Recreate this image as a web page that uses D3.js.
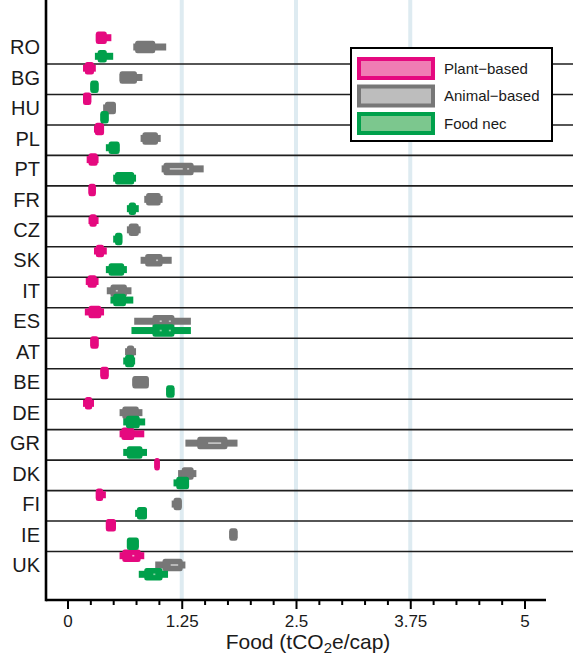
<!DOCTYPE html>
<html>
<head>
<meta charset="utf-8">
<script src="https://cdn.jsdelivr.net/npm/d3@7"></script>
<style>
  body { margin: 0; background: #fff; }
  svg { display: block; }
  text { font-family: "Liberation Sans", Arial, Helvetica, sans-serif; }
</style>
</head>
<body>
<svg id="chart" width="573" height="657"></svg>
<script>
// Countries, top to bottom
const countries = ["RO","BG","HU","PL","PT","FR","CZ","SK","IT","ES","AT","BE","DE","GR","DK","FI","IE","UK"];

// Food footprint distributions, tCO2e/cap: [min, q1, q3, max]
const plantBased = [
  [0.31,0.31,0.43,0.48],[0.17,0.19,0.29,0.31],[0.17,0.17,0.26,0.26],[0.29,0.30,0.40,0.40],
  [0.21,0.23,0.33,0.34],[0.23,0.23,0.31,0.31],[0.23,0.24,0.32,0.34],[0.29,0.31,0.40,0.43],
  [0.20,0.22,0.32,0.34],[0.19,0.23,0.37,0.40],[0.25,0.25,0.34,0.34],[0.36,0.36,0.45,0.45],
  [0.17,0.19,0.27,0.29],[0.57,0.59,0.73,0.84],[0.95,0.95,1.01,1.01],[0.31,0.31,0.39,0.42],
  [0.42,0.42,0.53,0.53],[0.57,0.60,0.80,0.84]
];
const animalBased = [
  [0.72,0.74,0.96,1.08],[0.57,0.57,0.76,0.82],[0.39,0.41,0.53,0.53],[0.80,0.82,0.99,1.02],
  [1.03,1.05,1.38,1.49],[0.84,0.86,1.02,1.04],[0.65,0.67,0.78,0.80],[0.80,0.85,1.04,1.14],
  [0.43,0.47,0.65,0.70],[0.73,0.93,1.17,1.35],[0.63,0.65,0.73,0.75],[0.71,0.71,0.89,0.89],
  [0.57,0.60,0.78,0.82],[1.29,1.42,1.75,1.86],[1.21,1.25,1.38,1.41],[1.14,1.16,1.25,1.25],
  [1.77,1.77,1.86,1.86],[0.96,1.04,1.26,1.29]
];
const foodNec = [
  [0.30,0.33,0.43,0.50],[0.25,0.25,0.34,0.34],[0.36,0.36,0.45,0.45],[0.42,0.45,0.57,0.57],
  [0.50,0.52,0.73,0.75],[0.65,0.67,0.75,0.78],[0.50,0.52,0.60,0.60],[0.42,0.45,0.62,0.65],
  [0.47,0.50,0.64,0.72],[0.70,0.93,1.17,1.35],[0.61,0.63,0.73,0.74],[1.08,1.08,1.17,1.17],
  [0.61,0.64,0.79,0.85],[0.61,0.65,0.82,0.87],[1.16,1.19,1.33,1.33],[0.74,0.76,0.87,0.87],
  [0.65,0.65,0.78,0.78],[0.78,0.84,1.04,1.10]
];

// Central marks inside the wider boxes: [country, series index, from, to]
const centreMarks = [
  ["PT",1,1.13,1.25],["PT",1,1.32,1.32],["SK",1,0.98,0.98],["IT",1,0.54,0.54],
  ["ES",1,1.02,1.02],["ES",1,1.12,1.12],["ES",2,1.02,1.02],["ES",2,1.12,1.12],
  ["GR",1,1.55,1.67],["UK",0,0.72,0.72],["UK",1,1.14,1.20],["UK",2,0.95,0.95]
];

const seriesNames = ["Plant\u2212based","Animal\u2212based","Food nec"];
const seriesData = [plantBased, animalBased, foodNec];
const seriesColor = ["#e5097f","#777777","#00a04b"];
const seriesLight = ["#f07db4","#bdbdbd","#7cc78e"];
const markColor = ["#f6a9cc","#c9c9c9","#86d4a4"];

const majorTicks = [0, 1.25, 2.5, 3.75, 5];
const minorTicks = d3.range(0, 5.0001, 0.25).filter(v => !majorTicks.some(m => Math.abs(m - v) < 1e-6));

const svg = d3.select("#chart");
const plotLeft = 46, plotRight = 546, plotTop = 0, plotBottom = 600;

const x = d3.scaleLinear().domain([-0.235, 5.235]).range([plotLeft, plotRight]);
const y = d3.scalePoint().domain(countries).range([47, 565]);
const sub = d3.scalePoint().domain([0,1,2]).range([-9.3, 9.3]);

// vertical guide bands
svg.append("g").selectAll("line").data(majorTicks.slice(1, 4)).join("line")
  .attr("x1", d => x(d)).attr("x2", d => x(d))
  .attr("y1", plotTop).attr("y2", plotBottom)
  .attr("stroke", "#deebf1").attr("stroke-width", 4);

// row separators
svg.append("g").selectAll("line").data(countries.slice(0, -1)).join("line")
  .attr("x1", plotLeft).attr("x2", 573)
  .attr("y1", d => y(d) + 17).attr("y2", d => y(d) + 17)
  .attr("stroke", "#1e1e1e").attr("stroke-width", 1.6);

// box plots
const boxH = 12.5, whiskH = 7;
const marks = svg.append("g");
seriesData.forEach((rows, s) => {
  const g = marks.append("g");
  rows.forEach((r, i) => {
    const cy = y(countries[i]) + sub(s);
    const [mn, q1, q3, mx] = r;
    g.append("rect")
      .attr("x", x(mn)).attr("width", Math.max(x(mx) - x(mn), 0))
      .attr("y", cy - whiskH / 2).attr("height", whiskH)
      .attr("fill", seriesColor[s]);
    g.append("rect")
      .attr("x", x(q1)).attr("width", x(q3) - x(q1))
      .attr("y", cy - boxH / 2).attr("height", boxH)
      .attr("rx", 2.5)
      .attr("fill", seriesColor[s]);
  });
});

marks.append("g").selectAll("rect").data(centreMarks).join("rect")
  .attr("x", d => x(d[2]) - 1)
  .attr("width", d => x(d[3]) - x(d[2]) + 2)
  .attr("y", d => y(d[0]) + sub(d[1]) - 0.8)
  .attr("height", 1.6)
  .attr("fill", d => markColor[d[1]]);

// axes
const xAxisMajor = d3.axisBottom(x).tickValues(majorTicks).tickSize(9)
  .tickFormat(d => String(d)).tickPadding(6);
const xAxisMinor = d3.axisBottom(x).tickValues(minorTicks).tickSize(5).tickFormat("");

const gMinor = svg.append("g").attr("transform", `translate(0,${plotBottom})`).call(xAxisMinor);
gMinor.select(".domain").remove();
gMinor.selectAll("line").attr("stroke", "#000").attr("stroke-width", 2);

const gMajor = svg.append("g").attr("transform", `translate(0,${plotBottom})`).call(xAxisMajor);
gMajor.select(".domain").remove();
gMajor.selectAll("line").attr("stroke", "#000").attr("stroke-width", 2);
gMajor.selectAll("text").attr("font-size", 17).attr("fill", "#1a1a1a")
  .attr("font-family", "Liberation Sans, Arial, sans-serif");

svg.append("line").attr("x1", plotLeft).attr("x2", plotRight)
  .attr("y1", plotBottom).attr("y2", plotBottom)
  .attr("stroke", "#000").attr("stroke-width", 2.6);
svg.append("line").attr("x1", plotLeft).attr("x2", plotLeft)
  .attr("y1", plotTop).attr("y2", plotBottom + 1.3)
  .attr("stroke", "#000").attr("stroke-width", 2.6);

// country labels
svg.append("g").selectAll("text").data(countries).join("text")
  .attr("x", 40).attr("y", d => y(d))
  .attr("dy", "0.36em")
  .attr("text-anchor", "end")
  .attr("font-size", 20)
  .attr("fill", "#1a1a1a")
  .text(d => d);

// axis title
const title = svg.append("text")
  .attr("x", 308).attr("y", 649)
  .attr("text-anchor", "middle").attr("font-size", 21).attr("fill", "#1a1a1a");
title.append("tspan").text("Food (tCO");
title.append("tspan").attr("font-size", 15).attr("dy", 4).text("2");
title.append("tspan").attr("dy", -4).text("e/cap)");

// legend
const lg = svg.append("g").attr("transform", "translate(351,48)");
lg.append("rect").attr("width", 201).attr("height", 93)
  .attr("fill", "#fff").attr("stroke", "#000").attr("stroke-width", 2);
seriesNames.forEach((name, s) => {
  const yy = 9 + s * 27.5;
  lg.append("rect").attr("x", 8).attr("y", yy + 2).attr("width", 74).attr("height", 19)
    .attr("fill", seriesLight[s]).attr("stroke", seriesColor[s]).attr("stroke-width", 4);
  lg.append("text").attr("x", 93).attr("y", yy + 11.5).attr("dy", "0.36em")
    .attr("font-size", 15).attr("fill", "#1a1a1a").text(name);
});
</script>
</body>
</html>
